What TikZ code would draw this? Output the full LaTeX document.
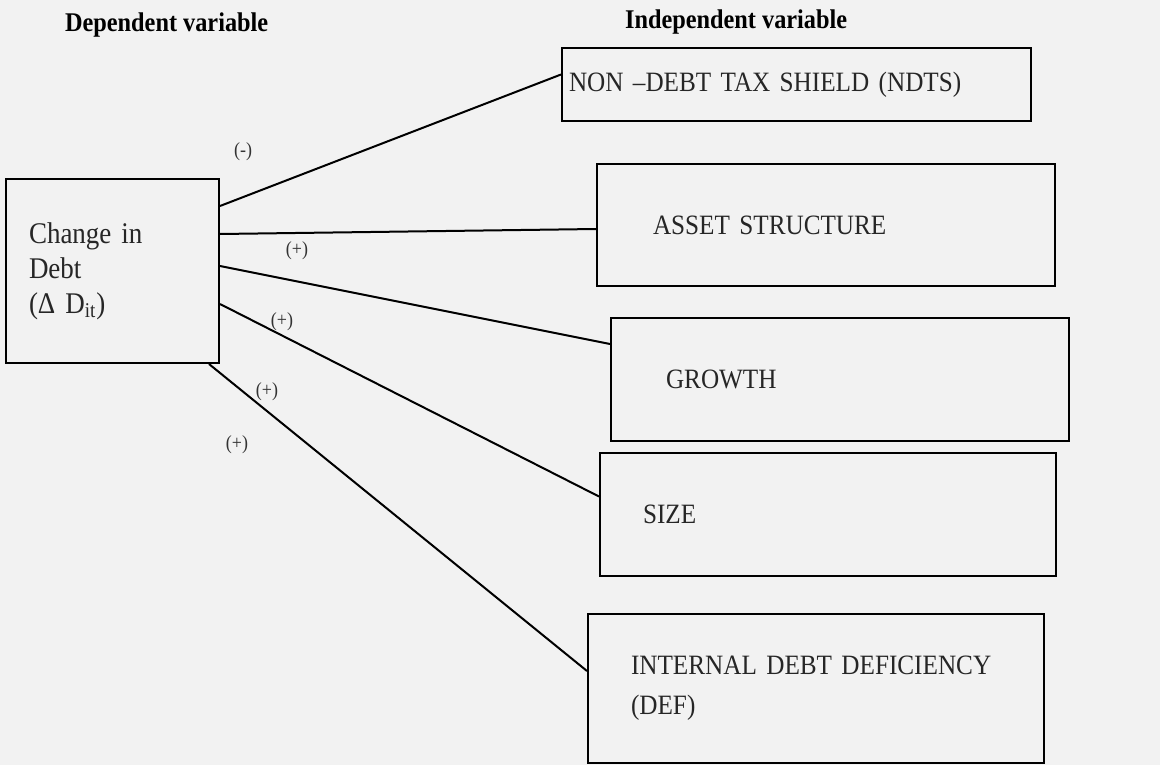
\documentclass[tikz,border=0pt]{standalone}
\usepackage{fontspec}
\setmainfont{Liberation Serif}[FakeStretch=0.9]
\begin{document}
\begin{tikzpicture}[x=0.5pt,y=-0.5pt,
    varbox/.style={draw,line width=1pt,anchor=north west,align=left,inner ysep=0pt,
        font=\fontsize{14}{20}\selectfont,text=black!85},
    sign/.style={font=\fontsize{10}{11}\selectfont,text=black!80},
    head/.style={anchor=west,font=\fontsize{13.5}{15}\selectfont\bfseries},
    link/.style={line width=1pt}]
    % page
    \fill[black!5] (0,0) rectangle (1160,765);
    \useasboundingbox (0,0) rectangle (1160,765);
    % headings
    \node[head] (dephead) at (58,25) {Dependent variable};
    \node[head] (indhead) at (618,22) {Independent variable};
    % dependent variable
    \node[varbox,text width=83.5pt,inner xsep=11.5pt,minimum height=92pt,
        font=\fontsize{15}{17.5}\selectfont] (dep) at (5,178) {Change in\\Debt\\(Δ D\textsubscript{it})};
    % independent variables
    \node[varbox,text width=227.5pt,inner xsep=3.5pt,minimum height=36.5pt] (ndts) at (561,47) {\mbox{NON –DEBT TAX SHIELD (NDTS)}};
    \node[varbox,text width=173pt,inner xsep=28pt,minimum height=61pt] (asset) at (596,163) {ASSET STRUCTURE};
    \node[varbox,text width=174pt,inner xsep=27.5pt,minimum height=61.5pt] (growth) at (610,317) {GROWTH};
    \node[varbox,text width=185pt,inner xsep=21.5pt,minimum height=61.5pt] (size) at (599,452) {SIZE};
    \node[varbox,text width=185pt,inner xsep=21.5pt,minimum height=74.5pt] (def) at (587,613) {\mbox{INTERNAL DEBT DEFICIENCY}\\(DEF)};
    % links
    \draw[link] ([yshift=32.5pt]dep.east) -- ([yshift=5pt]ndts.west);
    \draw[link] ([yshift=18.5pt]dep.east) -- ([yshift=-2pt]asset.west);
    \draw[link] ([yshift=2.5pt]dep.east) -- ([yshift=17.75pt]growth.west);
    \draw[link] ([yshift=-16.5pt]dep.east) -- ([yshift=9pt]size.west);
    \draw[link] ([xshift=-5.5pt]dep.south east) -- ([yshift=8.75pt]def.west);
    % signs
    \node[sign] (s1) at (243,152) {(-)};
    \node[sign] (s2) at (297,251) {(+)};
    \node[sign] (s3) at (282,322) {(+)};
    \node[sign] (s4) at (267,392) {(+)};
    \node[sign] (s5) at (237,445) {(+)};
\end{tikzpicture}
\end{document}
